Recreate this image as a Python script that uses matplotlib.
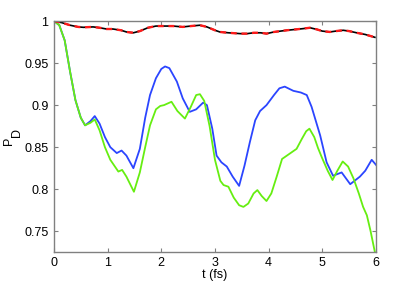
import matplotlib
matplotlib.use("Agg")
import matplotlib.pyplot as plt
from matplotlib.ticker import FormatStrFormatter

t_blue = [0, 0.1, 0.2, 0.3, 0.4, 0.5, 0.58, 0.68, 0.76, 0.85, 0.95, 1.05, 1.17, 1.26, 1.35, 1.48,
          1.6, 1.7, 1.79, 1.9, 2.0, 2.07, 2.15, 2.29, 2.4, 2.53, 2.65, 2.78, 2.85, 2.95, 3.03,
          3.12, 3.22, 3.33, 3.45, 3.55, 3.65, 3.75, 3.84, 3.96, 4.1, 4.2, 4.3, 4.46, 4.6, 4.71,
          4.8, 4.96, 5.08, 5.2, 5.28, 5.36, 5.44, 5.52, 5.6, 5.7, 5.8, 5.92, 6.0]
p_blue = [1.0, 0.995, 0.977, 0.940, 0.906, 0.885, 0.876, 0.881, 0.887, 0.878, 0.862, 0.85, 0.843,
          0.846, 0.84, 0.825, 0.848, 0.885, 0.912, 0.932, 0.943, 0.946, 0.944, 0.928, 0.908, 0.892,
          0.895, 0.903, 0.900, 0.872, 0.84, 0.832, 0.827, 0.815, 0.804, 0.828, 0.856, 0.882, 0.893,
          0.90, 0.912, 0.92, 0.922, 0.917, 0.915, 0.912, 0.898, 0.864, 0.832, 0.816, 0.818, 0.820,
          0.813, 0.806, 0.81, 0.815, 0.822, 0.835, 0.829]

t_green = [0, 0.1, 0.2, 0.3, 0.4, 0.5, 0.58, 0.68, 0.76, 0.85, 0.95, 1.05, 1.2, 1.27, 1.35, 1.49,
           1.6, 1.7, 1.79, 1.9, 1.98, 2.05, 2.19, 2.3, 2.44, 2.55, 2.65, 2.72, 2.8, 2.9, 3.0, 3.1,
           3.16, 3.25, 3.35, 3.45, 3.53, 3.62, 3.72, 3.79, 3.87, 3.96, 4.05, 4.15, 4.25, 4.34,
           4.43, 4.52, 4.62, 4.7, 4.76, 4.85, 4.92, 4.99, 5.1, 5.19, 5.28, 5.38, 5.48, 5.58,
           5.68, 5.76, 5.83, 5.9, 5.98]
p_green = [1.0, 0.995, 0.977, 0.940, 0.906, 0.885, 0.876, 0.879, 0.883, 0.87, 0.85, 0.835, 0.821,
           0.823, 0.815, 0.797, 0.82, 0.85, 0.876, 0.895, 0.899, 0.900, 0.904, 0.893, 0.884, 0.898,
           0.912, 0.913, 0.905, 0.875, 0.835, 0.81, 0.805, 0.803, 0.79, 0.781, 0.779, 0.783, 0.795,
           0.799, 0.792, 0.786, 0.795, 0.815, 0.836, 0.840, 0.844, 0.848, 0.86, 0.869, 0.872,
           0.862, 0.849, 0.838, 0.822, 0.811, 0.822, 0.833, 0.827, 0.813, 0.795, 0.779, 0.769,
           0.75, 0.725]

t_top = [0, 0.15, 0.3, 0.45, 0.55, 0.73, 0.85, 0.98, 1.1, 1.25, 1.35, 1.48, 1.6, 1.75, 1.9, 1.975,
         2.1, 2.22, 2.4, 2.55, 2.72, 2.85, 3.0, 3.09, 3.25, 3.47, 3.6, 3.72, 3.85, 3.96, 4.1, 4.34,
         4.5, 4.65, 4.77, 4.9, 5.0, 5.14, 5.25, 5.39, 5.5, 5.64, 5.8, 5.98]
p_top = [1.0, 0.998, 0.995, 0.993, 0.9925, 0.993, 0.992, 0.9905, 0.9905, 0.989, 0.987, 0.986,
         0.988, 0.992, 0.994, 0.994, 0.994, 0.994, 0.993, 0.994, 0.995, 0.993, 0.989, 0.987,
         0.986, 0.985, 0.985, 0.986, 0.986, 0.985, 0.987, 0.989, 0.990, 0.991, 0.992, 0.990,
         0.988, 0.987, 0.988, 0.989, 0.988, 0.986, 0.984, 0.9806]

x_ticks = [0, 1, 2, 3, 4, 5, 6]
y_ticks = [0.75, 0.8, 0.85, 0.9, 0.95, 1.0]

plt.rcParams['font.family'] = ['Liberation Sans', 'DejaVu Sans']
fig = plt.figure(figsize=(4.15, 2.84), dpi=100)
ax = fig.add_axes([0.130, 0.113, 0.776, 0.813])

ax.plot(t_blue, p_blue, color='#2b45ff', lw=1.3, solid_joinstyle='round')
ax.plot(t_green, p_green, color='#66ee11', lw=1.3, solid_joinstyle='round')
ax.plot(t_top, p_top, color='black', lw=1.2)
ax.plot(t_top, p_top, color='#ff1a1a', lw=1.7, dashes=(2.5, 2.0))

ax.set_xlim(0, 6)
ax.set_ylim(0.7255, 1.0)
ax.set_xticks(x_ticks)
ax.set_yticks(y_ticks)
ax.yaxis.set_major_formatter(FormatStrFormatter('%g'))
ax.tick_params(direction='in', top=True, right=True, length=3, width=0.8,
               color='#808080', labelsize=9, labelcolor='black', pad=4)
for s in ax.spines.values():
    s.set_color('#808080')
    s.set_linewidth(1.0)
ax.set_xlabel('t (fs)', fontsize=9, labelpad=0)

# y label: P with a full-size, offset D
fig.text(9 / 415, 1 - 140.5 / 284, 'P', rotation=90, fontsize=9, ha='center', va='center')
fig.text(16.5 / 415, 1 - 133 / 284, 'D', rotation=90, fontsize=9, ha='center', va='center')

fig.savefig('out.png', dpi=100)
